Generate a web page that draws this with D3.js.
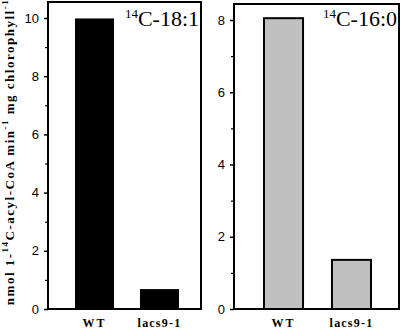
<!DOCTYPE html>
<html>
<head>
<meta charset="UTF-8">
<script src="https://d3js.org/d3.v7.min.js"></script>
<style>
  body { margin: 0; background: #fff; }
  svg { display: block; }
  .tick text { font-family: "Liberation Sans Narrow", "Liberation Sans", Arial, sans-serif; font-size: 13px; }
</style>
</head>
<body>
<svg width="401" height="330"></svg>
<script>
// data
const groups = ["WT", "lacs9-1"];
const values181 = [9.95, 0.65];
const values160 = [8.05, 1.36];
const ticks181 = [0, 2, 4, 6, 8, 10];
const ticks160 = [0, 2, 4, 6, 8];

const svg = d3.select("svg");
const bottom = 309;
const serif = "'Liberation Serif', 'Times New Roman', serif";

// panel settings (layout only)
const panels = [
  { title: "C-18:1", values: values181, ticks: ticks181, max: 10, top: 18, frame: [48, 201, 2],
    bars: [76, 178], pad: 0.43, fill: "#000000" },
  { title: "C-16:0", values: values160, ticks: ticks160, max: 8, top: 20, frame: [234, 399, 4],
    bars: [264, 371], pad: 0.426, fill: "#c0c0c0" }
];

panels.forEach(p => {
  const y = d3.scaleLinear().domain([0, p.max]).range([bottom, p.top]);
  const x = d3.scaleBand().domain(groups).range(p.bars).paddingInner(p.pad).paddingOuter(0);
  const [x0, x1, yTop] = p.frame;

  // bars
  svg.append("g").selectAll("rect")
    .data(groups.map((g, i) => ({ g, v: p.values[i] })))
    .join("rect")
    .attr("x", d => x(d.g))
    .attr("width", x.bandwidth())
    .attr("y", d => y(d.v))
    .attr("height", d => y(0) - y(d.v))
    .attr("fill", p.fill)
    .attr("stroke", "#000")
    .attr("stroke-width", 2);

  // frame
  svg.append("rect")
    .attr("x", x0).attr("y", yTop)
    .attr("width", x1 - x0).attr("height", bottom - yTop)
    .attr("fill", "none").attr("stroke", "#000").attr("stroke-width", 2);

  // minor ticks
  const minor = d3.range(1, p.max, 2);
  svg.append("g")
    .attr("transform", `translate(${x0},0)`)
    .call(d3.axisLeft(y).tickValues(minor).tickSize(3).tickFormat(""))
    .call(g => g.select(".domain").remove())
    .call(g => g.selectAll("line").attr("stroke-width", 1.2));

  // major ticks
  svg.append("g")
    .attr("transform", `translate(${x0},0)`)
    .call(d3.axisLeft(y).tickValues(p.ticks).tickSize(4).tickPadding(5).tickFormat(d3.format("d")))
    .call(g => g.select(".domain").remove())
    .call(g => g.selectAll("line").attr("stroke-width", 1.5));

  // category labels
  svg.append("g").selectAll("text")
    .data(groups)
    .join("text")
    .attr("x", d => x(d) + x.bandwidth() / 2)
    .attr("y", 327)
    .attr("text-anchor", "middle")
    .attr("font-family", serif)
    .attr("font-weight", "bold")
    .attr("font-size", 12)
    .attr("letter-spacing", d => d === "WT" ? 2 : 1.2)
    .text(d => d);

  // panel title
  const t = svg.append("text")
    .attr("x", x1 - 2)
    .attr("y", 26)
    .attr("text-anchor", "end")
    .attr("font-family", serif)
    .attr("font-size", 22);
  t.append("tspan").attr("font-size", 13).attr("dy", -8).text("14");
  t.append("tspan").attr("dy", 8).text(p.title);
});

// y axis label
const yl = svg.append("text")
  .attr("transform", "translate(14,152) rotate(-90)")
  .attr("text-anchor", "middle")
  .attr("font-family", serif)
  .attr("font-weight", "bold")
  .attr("font-size", 13)
  .attr("letter-spacing", 1.5);
yl.append("tspan").text("nmol 1-");
yl.append("tspan").attr("font-size", 9).attr("dy", -6).text("14");
yl.append("tspan").attr("dy", 6).text("C-acyl-CoA min");
yl.append("tspan").attr("font-size", 9).attr("dy", -6).text("-1");
yl.append("tspan").attr("dy", 6).text(" mg chlorophyll");
yl.append("tspan").attr("font-size", 9).attr("dy", -6).text("-1");
</script>
</body>
</html>
